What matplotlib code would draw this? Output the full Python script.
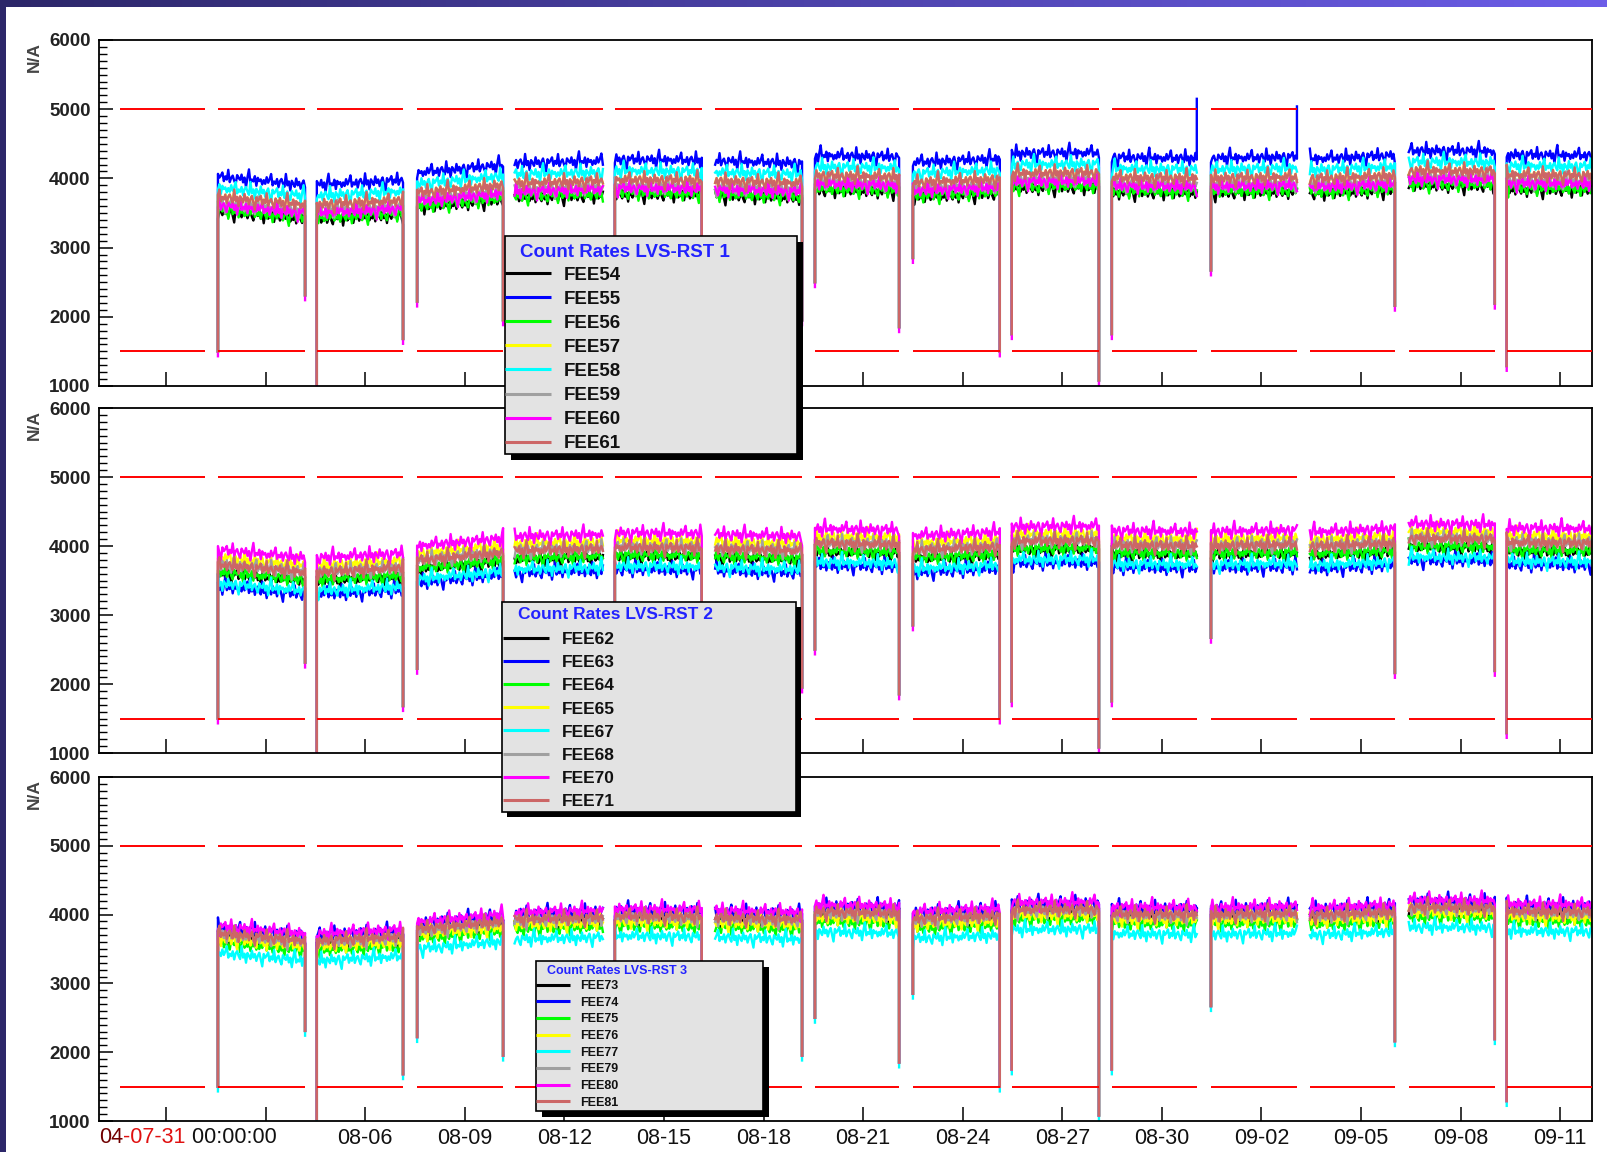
import numpy as np
import matplotlib.pyplot as plt
import matplotlib.dates as mdates
from matplotlib.patches import Rectangle
from matplotlib.ticker import MultipleLocator
from matplotlib.offsetbox import TextArea, HPacker, AnnotationBbox

plt.rcParams['font.family'] = ['Liberation Sans', 'DejaVu Sans']
plt.rcParams['lines.scale_dashes'] = False

# acquisition runs (the first run has no counts, only thresholds)
run_start = ["2004-07-29 15:00", "2004-08-01 13:30", "2004-08-04 13:00", "2004-08-07 13:30",
             "2004-08-10 12:00", "2004-08-13 12:30", "2004-08-16 13:00", "2004-08-19 13:10",
             "2004-08-22 12:00", "2004-08-25 11:30", "2004-08-28 11:50", "2004-08-31 11:30",
             "2004-09-03 11:00", "2004-09-06 10:30", "2004-09-09 09:20"]
run_end = ["2004-08-01 04:00", "2004-08-04 04:30", "2004-08-07 03:20", "2004-08-10 03:40",
           "2004-08-13 03:50", "2004-08-16 03:20", "2004-08-19 03:50", "2004-08-22 02:00",
           "2004-08-25 02:50", "2004-08-28 02:30", "2004-08-31 01:15", "2004-09-03 01:40",
           "2004-09-06 00:30", "2004-09-09 00:45", "2004-09-11 23:00"]

# reference (FEE61-like) level at start / end of each run
level_start = [None, 3730, 3620, 3790, 3930, 3980, 3960, 4040, 3940, 4070, 4010, 4000, 3990, 4110, 4050]
level_end = [None, 3620, 3680, 3900, 3960, 3970, 3930, 4020, 3990, 4080, 4000, 4020, 4040, 4100, 4040]

# first / last reading of a run when the rate falls off
drop_start = [None, 1500, 1030, 2220, None, 1500, None, 2500, 2850, 1750, 1750, 2670, None, None, 1290]
drop_end = [None, 2310, 1680, 1950, None, 2000, 1950, 1850, 1500, 1080, None, None, 2160, 2190, None]

# sample-to-sample scatter of the rates
jitter = [0.2, -0.6, 0.9, -0.3, 0.5, 1.7, -0.8, 0.1, -0.4, 0.7,
          -1.1, 0.3, 0.8, -0.2, -0.9, 2.0, -0.5, 0.4, -1.6, 0.6,
          0.0, -0.7, 1.2, -0.3, 0.5, -1.0, 0.2, 0.9, -0.6, -2.1,
          0.7, -0.1, 0.4, 1.1, -0.8, 0.3, -0.4, 1.8, -0.9, 0.1,
          0.6, -0.5, -1.3, 0.8, 0.2, -0.2, 1.0, -0.7, 0.4, -1.7,
          0.5, 2.3, -0.6, 0.1, -0.3, 0.9, -1.2, 0.6, -0.1, 0.3,
          -0.8]

colors = ["#000000", "#0000ff", "#00ff00", "#ffff00", "#00ffff", "#a0a0a0", "#ff00ff", "#cc6666"]

titles = ["Count Rates LVS-RST 1", "Count Rates LVS-RST 2", "Count Rates LVS-RST 3"]
fee_1 = ["FEE54", "FEE55", "FEE56", "FEE57", "FEE58", "FEE59", "FEE60", "FEE61"]
fee_2 = ["FEE62", "FEE63", "FEE64", "FEE65", "FEE67", "FEE68", "FEE70", "FEE71"]
fee_3 = ["FEE73", "FEE74", "FEE75", "FEE76", "FEE77", "FEE79", "FEE80", "FEE81"]

# offset of each FEE from the reference level
offset_1 = [-210, 290, -190, 0, 130, -90, -120, 0]
offset_2 = [-130, -320, -110, 100, -270, 10, 210, 0]
offset_3 = [-40, 80, -140, -80, -290, -20, 100, 0]
phase_1 = [5, 17, 29, 52, 41, 11, 23, 52]
phase_2 = [7, 33, 19, 45, 2, 27, 14, 52]
phase_3 = [9, 38, 21, 3, 47, 30, 15, 52]
deepest = [6, 6, 4]
blue_spikes_1 = {10: 5150, 11: 5040}

thresholds = [5000, 1500]
y_ticks = [1000, 2000, 3000, 4000, 5000, 6000]
x_tick_labels = ["", "", "08-06", "08-09", "08-12", "08-15", "08-18", "08-21", "08-24",
                 "08-27", "08-30", "09-02", "09-05", "09-08", "09-11"]

W, H = 1608, 1152
n_samp = 60
noise = 65
jit = np.array(jitter)
t0 = mdates.date2num(np.array(run_start, dtype='datetime64[m]'))
t1 = mdates.date2num(np.array(run_end, dtype='datetime64[m]'))
x_ticks = mdates.date2num(np.arange(np.datetime64('2004-07-31'), np.datetime64('2004-09-12'), 3))


def rate_curve(offset, phase, extra, spikes):
    ts, ys = [], []
    for k in range(1, len(run_start)):
        t = np.linspace(t0[k], t1[k], n_samp)
        lvl = np.linspace(level_start[k], level_end[k], n_samp) + offset
        idx = (phase + 13 * k + np.arange(n_samp)) % len(jit)
        y = lvl + noise * jit[idx]
        t, y = list(t), list(y)
        if drop_start[k] is not None:
            t.insert(0, t[0])
            y.insert(0, drop_start[k] + extra)
        if k in spikes:
            t.append(t[-1])
            y.append(spikes[k])
        elif drop_end[k] is not None:
            t.append(t[-1])
            y.append(drop_end[k] + extra)
        ts += t + [t[-1]]
        ys += y + [np.nan]
    return ts, ys


fig = plt.figure(figsize=(W / 100, H / 100), dpi=100)
panels = [(40, 386), (408, 753), (777, 1121)]
offsets = [offset_1, offset_2, offset_3]
phases = [phase_1, phase_2, phase_3]
axes = []
for p, (top, bot) in enumerate(panels):
    ax = fig.add_axes([99 / W, 1 - bot / H, (1592 - 99) / W, (bot - top) / H])
    for i in range(8):
        extra = -70 if i == deepest[p] else 0
        spikes = blue_spikes_1 if (p == 0 and i == 1) else {}
        ts, ys = rate_curve(offsets[p][i], phases[p][i], extra, spikes)
        ax.plot(ts, ys, color=colors[i], lw=1.7, zorder=2 + i * 0.01)
    for thr in thresholds:
        ax.hlines(np.full(len(t0), thr), t0, t1, colors='#ff0000', lw=1.4, zorder=3)

    ax.set_xlim(mdates.date2num(np.datetime64('2004-07-28T23:30')),
                mdates.date2num(np.datetime64('2004-09-11T23:00')))
    ax.set_ylim(1000, 6000)
    ax.set_yticks(y_ticks, [str(v) for v in y_ticks], fontweight='bold', color='#222222')
    ax.yaxis.set_minor_locator(MultipleLocator(100))
    ax.set_xticks(x_ticks, x_tick_labels)
    ax.tick_params(axis='y', which='major', direction='in', length=10, width=1.1,
                   labelsize=13.5, pad=6)
    ax.tick_params(axis='y', which='minor', direction='in', length=5.5, width=1.0)
    ax.tick_params(axis='x', which='major', direction='in', length=10, width=1.1,
                   labelsize=15.5, pad=5, labelbottom=(p == 2), labelcolor='#111111')
    for sp in ax.spines.values():
        sp.set_linewidth(1.3)
    ax.text(-0.0435, 0.951, "N/A", transform=ax.transAxes, rotation=90, ha='center',
            va='center', fontsize=12.5, fontweight='bold', color='#444444')
    axes.append(ax)

# time offset label of the bottom axis
parts = [TextArea("04", textprops=dict(color='#700000', fontsize=15.5)),
         TextArea("-07-31", textprops=dict(color='#e01010', fontsize=15.5)),
         TextArea(" 00:00:00", textprops=dict(color='#111111', fontsize=15.5))]
box = HPacker(children=parts, pad=0, sep=0)
axes[2].add_artist(AnnotationBbox(box, (0, -0.047), xycoords='axes fraction',
                                  box_alignment=(0, 0.5), frameon=False,
                                  annotation_clip=False, pad=0))

# overlay in pixel units: window border and legends
ov = fig.add_axes([0, 0, 1, 1], zorder=10)
c0 = np.array([0x2c, 0x27, 0x69]) / 255
c1 = np.array([0x6c, 0x5d, 0xe8]) / 255
g = np.linspace(0, 1, 256)[:, None]
grad = ((1 - g) * c0 + g * c1)[None, :, :]
ov.imshow(grad, extent=(0, W, 7, 0), aspect='auto', zorder=0)
ov.add_patch(Rectangle((0, 0), 6, H, color=c0, lw=0))
ov.set_xlim(0, W)
ov.set_ylim(H, 0)
ov.axis('off')


def draw_legend(bx, title, labels, fs, title_xy, row0, step, line_x, text_x, shadow):
    x0, y0, x1, y1 = bx
    ov.add_patch(Rectangle((x0 + shadow, y0 + shadow), x1 - x0, y1 - y0, color='black', lw=0))
    ov.add_patch(Rectangle((x0, y0), x1 - x0, y1 - y0, facecolor='#e3e3e3',
                           edgecolor='black', lw=1.2))
    fpx = fs * 100 / 72
    ov.text(title_xy[0], title_xy[1] + 0.36 * fpx, title, color='#2222ff', fontsize=fs,
            fontweight='bold', va='baseline')
    for j, (lab, c) in enumerate(zip(labels, colors)):
        y = row0 + j * step
        ov.plot(line_x, [y, y], color=c, lw=2.2, solid_capstyle='butt')
        ov.text(text_x, y + 0.36 * fpx, lab, fontsize=fs, fontweight='bold',
                color='#111111', va='baseline')


draw_legend((505, 236, 797, 454), titles[0], fee_1, 13.5, (520, 250), 273, 24.1, [505, 551], 564, 6)
draw_legend((502, 602, 796, 812), titles[1], fee_2, 12.5, (518, 613), 638, 23.1, [503, 549], 562, 5)
draw_legend((536, 961, 763, 1111), titles[2], fee_3, 9, (547, 969), 984.5, 16.7, [536, 570], 580, 6)

fig.savefig("out.png", dpi=100)
